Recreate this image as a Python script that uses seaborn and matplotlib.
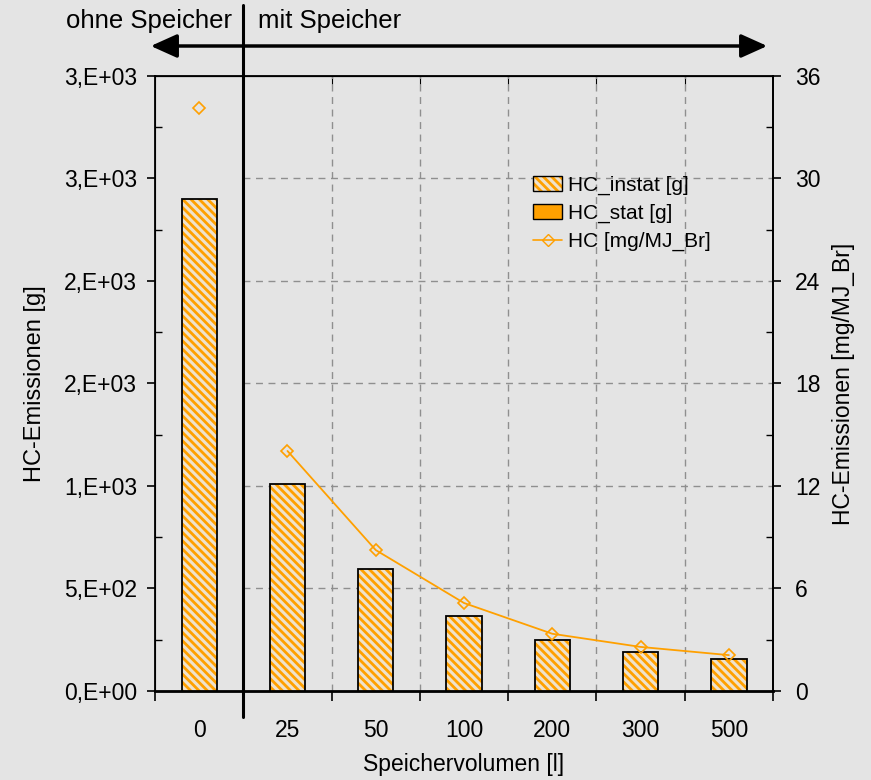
import numpy as np
import pandas as pd
import matplotlib
matplotlib.use("Agg")
import matplotlib.pyplot as plt
import matplotlib.transforms as mtransforms
from matplotlib.patches import Patch, FancyArrowPatch
from matplotlib.lines import Line2D
from matplotlib.legend_handler import HandlerTuple
from matplotlib.ticker import FixedLocator
import seaborn as sns

# --- data -------------------------------------------------------------
volumes = ["0", "25", "50", "100", "200", "300", "500"]
hc_instat_g = [2400, 1010, 595, 366, 249, 190, 156]
hc_stat_g = [0, 0, 0, 0, 0, 0, 0]
hc_mg_mj = [34.1, 14.05, 8.25, 5.15, 3.35, 2.58, 2.1]
left_ticks = [0, 500, 1000, 1500, 2000, 2500, 3000]
left_labels = ["0,E+00", "5,E+02", "1,E+03", "2,E+03", "2,E+03", "3,E+03", "3,E+03"]
right_ticks = [0, 6, 12, 18, 24, 30, 36]

BG = "#e4e4e4"
ORANGE = "#ffa000"
PALE = "#efe2cc"
GRID = "#8f8f8f"
FS = 16.5

sns.set_style("ticks", {"axes.facecolor": BG, "figure.facecolor": BG})
plt.rcParams["font.family"] = ["Liberation Sans", "DejaVu Sans"]
plt.rcParams["hatch.linewidth"] = 2.0
plt.rcParams["axes.edgecolor"] = "black"
plt.rcParams["text.color"] = "black"
plt.rcParams["axes.labelcolor"] = "black"
plt.rcParams["xtick.color"] = "black"
plt.rcParams["ytick.color"] = "black"

df = pd.DataFrame({"vol": volumes, "instat": hc_instat_g, "stat": hc_stat_g})
pos = np.arange(len(volumes))
HATCH = "\\\\\\\\"

fig = plt.figure(figsize=(8.71, 7.80), dpi=100)
ax = fig.add_axes([0.178, 0.1141, 0.7095, 0.7885])
ax.set_facecolor(BG)

# stationary share (solid) and instationary share (hatched)
sns.barplot(data=df, x="vol", y="stat", color=ORANGE, width=0.4,
            saturation=1, linewidth=0, ax=ax, zorder=3)
n_stat = len(ax.patches)
sns.barplot(data=df, x="vol", y="instat", color=PALE, width=0.4,
            saturation=1, linewidth=0, ax=ax, zorder=3)
for p in ax.patches[n_stat:]:
    p.set_hatch(HATCH)
    p.set_edgecolor(ORANGE)
    p.set_linewidth(0)
sns.barplot(data=df, x="vol", y="instat", fill=False, width=0.4,
            saturation=1, linewidth=1.3, edgecolor="black", ax=ax, zorder=4)

ax.set_xlim(-0.5, len(volumes) - 0.5)
ax.set_ylim(0, 3000)

# grid only in the "mit Speicher" region
for y in left_ticks[1:-1]:
    ax.plot([0.5, len(volumes) - 0.5], [y, y], ls=(0, (5, 4)), color=GRID,
            lw=1.0, zorder=1)
for x in np.arange(1.5, len(volumes) - 1, 1.0):
    ax.axvline(x, ls=(0, (5, 4)), color=GRID, lw=1.0, zorder=1)

# divider between without / with storage
trans = mtransforms.blended_transform_factory(ax.transData, ax.transAxes)
ax.plot([0.5, 0.5], [-0.043, 1.116], color="black", lw=2.2,
        transform=trans, clip_on=False, zorder=5)

# x ticks: labels at centres (small inward ticks), outward ticks at boundaries
ax.set_xticks(pos)
ax.set_xticklabels(volumes)
ax.xaxis.set_minor_locator(FixedLocator(np.arange(-0.5, len(volumes), 1.0)))
ax.tick_params(axis="x", which="major", direction="in", length=5, width=1,
               labelsize=FS, pad=20)
ax.tick_params(axis="x", which="minor", direction="out", length=7, width=1.2)
ax.set_xlabel("Speichervolumen [l]", fontsize=FS, labelpad=8)

top = ax.secondary_xaxis("top")
top.set_xticks(np.arange(0.5, len(volumes) - 1, 1.0))
top.tick_params(direction="in", length=6, width=0.8, labeltop=False)

ax.set_yticks(left_ticks)
ax.set_yticklabels(left_labels)
ax.yaxis.set_minor_locator(FixedLocator(np.arange(250, 3000, 500)))
ax.tick_params(axis="y", which="major", direction="out", length=6, width=1.2,
               labelsize=FS, pad=7)
ax.tick_params(axis="y", which="minor", direction="in", length=5, width=1)
ax.set_ylabel("HC-Emissionen [g]", fontsize=17, labelpad=13)

for s in ["left", "right", "top"]:
    ax.spines[s].set_linewidth(1.3)
ax.spines["bottom"].set_linewidth(2.0)

# specific emissions on the secondary axis
ax2 = ax.twinx()
sns.lineplot(x=pos[1:], y=hc_mg_mj[1:], color=ORANGE, lw=1.3, marker="D",
             markersize=6.5, markerfacecolor="none", markeredgecolor=ORANGE,
             markeredgewidth=1.2, ax=ax2, zorder=6)
ax2.plot(pos[:1], hc_mg_mj[:1], ls="none", marker="D", markersize=6.5,
         markerfacecolor="none", markeredgecolor=ORANGE, markeredgewidth=1.2)
ax2.set_ylim(0, 36)
ax2.set_yticks(right_ticks)
ax2.yaxis.set_minor_locator(FixedLocator(np.arange(3, 36, 6)))
ax2.tick_params(axis="y", which="major", direction="out", length=6, width=1.2,
                labelsize=FS, pad=10)
ax2.tick_params(axis="y", which="minor", direction="in", length=5, width=1)
ax2.set_ylabel("HC-Emissionen [mg/MJ_Br]", fontsize=FS, labelpad=8)
ax2.spines["right"].set_linewidth(1.3)

# legend
h_instat = (Patch(facecolor=PALE, edgecolor=ORANGE, hatch=HATCH, lw=0),
            Patch(facecolor="none", edgecolor="black", lw=1.0))
h_stat = Patch(facecolor=ORANGE, edgecolor="black", lw=1.0)
h_line = Line2D([], [], color=ORANGE, lw=1.2, marker="D", markersize=6.5,
                markerfacecolor="none", markeredgecolor=ORANGE)
ax2.legend([h_instat, h_stat, h_line],
           ["HC_instat [g]", "HC_stat [g]", "HC [mg/MJ_Br]"],
           handler_map={tuple: HandlerTuple(ndivide=1)},
           loc="upper left", bbox_to_anchor=(0.582, 0.868), frameon=False,
           fontsize=15, handlelength=1.35, handletextpad=0.3,
           labelspacing=0.42)

# header: arrow and region labels
fig.text(232 / 871, 1 - 21 / 780, "ohne Speicher", ha="right", va="center",
         fontsize=18.5)
fig.text(258 / 871, 1 - 21 / 780, "mit Speicher", ha="left", va="center",
         fontsize=18.5)
fig.add_artist(FancyArrowPatch(
    (148 / 871, 1 - 46 / 780), (770 / 871, 1 - 46 / 780),
    transform=fig.transFigure,
    arrowstyle="<|-|>,head_length=1.0,head_width=0.45",
    mutation_scale=16, lw=2.5, color="black"))

fig.savefig("out.png", dpi=100, facecolor=BG)
